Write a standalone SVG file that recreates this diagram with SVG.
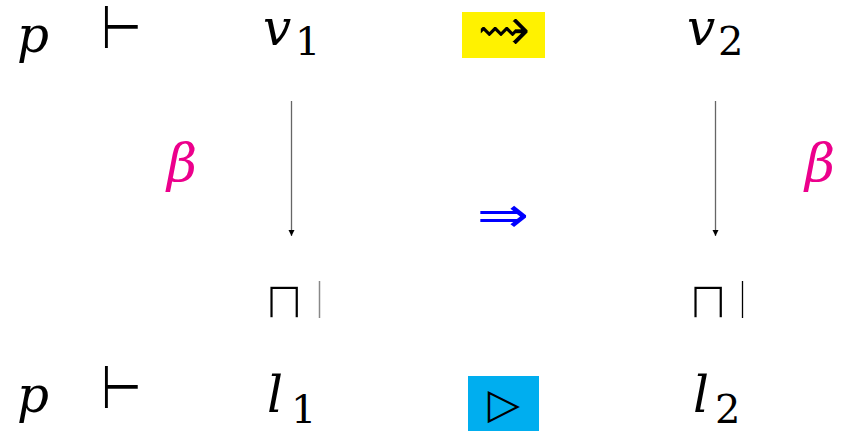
<svg xmlns="http://www.w3.org/2000/svg" width="841" height="431" viewBox="0 0 841 431">
<style>
text.m{font-family:'DejaVu Serif',serif;font-style:italic;font-size:50px;fill:#000}
text.s{font-family:'DejaVu Serif',serif;font-size:40px;fill:#000}
text.sym{font-family:'DejaVu Sans',sans-serif;fill:#000}
text.thin{stroke:#fff;stroke-width:2}
text.beta{font-family:'DejaVu Serif',serif;font-style:italic;font-size:52px;fill:#EC008C}
.conn{stroke:#666;stroke-width:1.3;fill:none}
</style>
<defs>
<marker id="ah" viewBox="0 0 10 10" refX="10" refY="5" markerWidth="6" markerHeight="8" orient="auto" markerUnits="userSpaceOnUse">
<path d="M0,0 L10,5 L0,10 Z" fill="#000"/>
</marker>
</defs>
<rect width="841" height="431" fill="#fff"/>
<g id="p-top"><text class="m" x="17" y="52">p</text></g>
<g id="turnstile-top"><text class="sym" transform="translate(101,48) scale(0.78,1)" x="0" y="0" font-size="60">⊢</text></g>
<g id="v1"><text class="m" x="263" y="45">v</text><text class="s" x="295" y="55">1</text></g>
<g id="leadsto"><rect x="462" y="12" width="83" height="46" fill="#FFF200"/><text class="sym" x="504" y="52" font-size="66" text-anchor="middle" stroke="#FFF200" stroke-width="1.5">⇝</text></g>
<g id="v2"><text class="m" x="687" y="45">v</text><text class="s" x="718" y="55">2</text></g>
<g id="beta-left"><text class="beta" x="167" y="181">β</text></g>
<g id="beta-right"><text class="beta" x="805" y="181">β</text></g>
<g id="implies"><text class="sym" transform="translate(503,232) scale(1.25,1)" x="0" y="0" font-size="50" style="fill:#0000FF" text-anchor="middle">⇒</text></g>
<g id="meet-left"><text class="sym thin" x="284" y="318" font-size="52" text-anchor="middle">⊓</text><line x1="319.5" y1="281" x2="319.5" y2="318" stroke="#888" stroke-width="1.5"/></g>
<g id="meet-right"><text class="sym thin" x="708" y="318" font-size="52" text-anchor="middle">⊓</text><line x1="742.5" y1="281" x2="742.5" y2="318" stroke="#000" stroke-width="1.3"/></g>
<g id="p-bottom"><text class="m" x="17" y="412">p</text></g>
<g id="turnstile-bottom"><text class="sym" transform="translate(101,408) scale(0.78,1)" x="0" y="0" font-size="60">⊢</text></g>
<g id="l1"><text class="m" x="267" y="412">l</text><text class="s" x="291" y="423">1</text></g>
<g id="triangle"><rect x="468" y="376" width="71" height="55" fill="#00AEEF"/><text class="sym" x="504" y="418" font-size="42" text-anchor="middle">▷</text></g>
<g id="l2"><text class="m" x="693" y="412">l</text><text class="s" x="715" y="423">2</text></g>
<g id="connectors">
<line class="conn" x1="291.5" y1="101" x2="291.5" y2="236" marker-end="url(#ah)"/>
<line class="conn" x1="715.5" y1="101" x2="715.5" y2="236" marker-end="url(#ah)"/>
</g>
</svg>
